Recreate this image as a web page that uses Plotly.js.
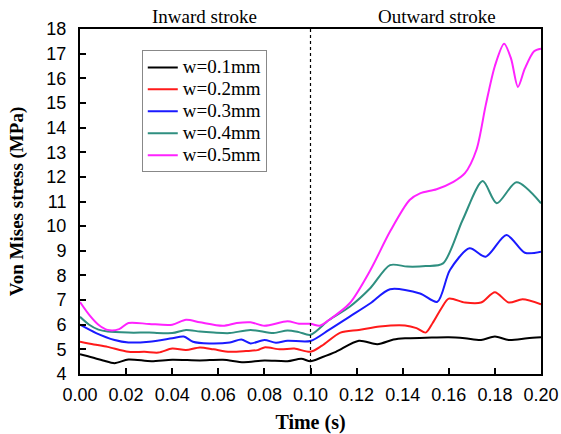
<!DOCTYPE html>
<html>
<head>
<meta charset="utf-8">
<script src="https://cdn.plot.ly/plotly-3.0.1.min.js"></script>
<style>html,body{margin:0;padding:0;background:#fff;}#chart{width:561px;height:434px;}</style>
</head>
<body>
<div id="chart"></div>
<script>
const seriesNames = ["w=0.1mm", "w=0.2mm", "w=0.3mm", "w=0.4mm", "w=0.5mm"];
const seriesColors = ["#000000", "#ff1a1a", "#1a1aff", "#2f8f80", "#ff22ff"];

const t1 = [0, 0.005, 0.010, 0.015, 0.021, 0.031, 0.040, 0.052, 0.062, 0.071, 0.080, 0.090, 0.096, 0.100, 0.105, 0.111, 0.121, 0.129, 0.136, 0.141, 0.150, 0.160, 0.167, 0.174, 0.180, 0.186, 0.194, 0.200];
const v1 = [4.80, 4.68, 4.55, 4.44, 4.59, 4.52, 4.58, 4.55, 4.58, 4.48, 4.55, 4.52, 4.62, 4.52, 4.68, 4.90, 5.35, 5.21, 5.40, 5.45, 5.47, 5.49, 5.45, 5.38, 5.52, 5.38, 5.45, 5.49];

const t2 = [0, 0.006, 0.012, 0.021, 0.028, 0.034, 0.040, 0.046, 0.052, 0.058, 0.065, 0.072, 0.077, 0.080, 0.087, 0.093, 0.100, 0.105, 0.113, 0.121, 0.130, 0.141, 0.146, 0.150, 0.153, 0.157, 0.160, 0.167, 0.174, 0.180, 0.186, 0.192, 0.200];
const v2 = [5.31, 5.20, 5.10, 4.90, 4.90, 4.87, 5.03, 4.97, 5.08, 5.00, 4.90, 4.93, 4.97, 5.08, 5.00, 5.03, 4.90, 5.15, 5.68, 5.79, 5.93, 5.97, 5.86, 5.68, 6.07, 6.70, 7.06, 6.90, 6.90, 7.32, 6.90, 7.03, 6.83];

const t3 = [0, 0.007, 0.015, 0.021, 0.030, 0.040, 0.045, 0.049, 0.056, 0.065, 0.070, 0.074, 0.080, 0.085, 0.090, 0.100, 0.108, 0.117, 0.126, 0.1345, 0.1475, 0.155, 0.1605, 0.169, 0.176, 0.185, 0.193, 0.200];
const v3 = [6.00, 5.66, 5.38, 5.28, 5.31, 5.45, 5.52, 5.31, 5.24, 5.28, 5.40, 5.24, 5.38, 5.27, 5.35, 5.34, 5.79, 6.33, 6.87, 7.44, 7.27, 6.93, 8.22, 9.10, 8.76, 9.64, 8.92, 8.96];

const t4 = [0, 0.004, 0.008, 0.012, 0.021, 0.030, 0.040, 0.046, 0.052, 0.058, 0.065, 0.074, 0.084, 0.090, 0.095, 0.100, 0.108, 0.117, 0.126, 0.1345, 0.142, 0.150, 0.1575, 0.166, 0.1747, 0.1808, 0.1894, 0.200];
const v4 = [6.32, 6.00, 5.80, 5.72, 5.68, 5.68, 5.66, 5.79, 5.72, 5.68, 5.66, 5.79, 5.66, 5.77, 5.70, 5.59, 6.19, 6.73, 7.49, 8.42, 8.36, 8.38, 8.49, 10.25, 11.83, 10.93, 11.78, 10.93];

const t5 = [0, 0.004, 0.008, 0.012, 0.017, 0.021, 0.030, 0.040, 0.046, 0.052, 0.062, 0.068, 0.074, 0.080, 0.090, 0.095, 0.100, 0.104, 0.108, 0.117, 0.126, 0.1345, 0.143, 0.1475, 0.1547, 0.162, 0.167, 0.172, 0.176, 0.180, 0.184, 0.187, 0.190, 0.193, 0.197, 0.200];
const v5 = [6.92, 6.40, 6.00, 5.79, 5.82, 6.07, 6.03, 6.00, 6.20, 6.10, 5.96, 6.07, 6.10, 5.96, 6.14, 6.04, 6.04, 5.96, 6.19, 6.87, 8.22, 9.78, 11.06, 11.33, 11.50, 11.80, 12.15, 13.10, 14.90, 16.50, 17.40, 16.80, 15.65, 16.40, 17.10, 17.20];

const xs = [t1, t2, t3, t4, t5];
const ys = [v1, v2, v3, v4, v5];

const strokeLabels = ["Inward stroke", "Outward stroke"];
const strokeLabelX = [0.054, 0.155];
const dividerX = 0.1;

const serif = "Liberation Serif, Times New Roman, serif";
const sans = "Liberation Sans, Arial, sans-serif";

const traces = seriesNames.map((n, i) => ({
  x: xs[i], y: ys[i],
  name: '<span style="font-size:19px">' + n + '</span>',
  type: "scatter", mode: "lines",
  line: {color: seriesColors[i], width: 2, shape: "spline", smoothing: 0.8}
}));

const layout = {
  width: 561, height: 434,
  margin: {l: 80, r: 20, t: 29, b: 60},
  paper_bgcolor: "#ffffff", plot_bgcolor: "#ffffff",
  showlegend: true,
  legend: {
    x: 0.134, y: 0.938, xanchor: "left", yanchor: "top",
    bgcolor: "#ffffff", bordercolor: "#888888", borderwidth: 1,
    font: {family: serif, size: 14.6, color: "#000"},
    itemwidth: 30
  },
  xaxis: {
    range: [0, 0.2], dtick: 0.02, tick0: 0, tickformat: ".2f",
    ticks: "inside", ticklen: 6, tickwidth: 2, tickcolor: "#000",
    showline: true, linewidth: 2, linecolor: "#000", mirror: true,
    showgrid: false, zeroline: false, ticklabelstandoff: 3,
    tickfont: {family: sans, size: 18, color: "#000"},
    title: {text: "<b>Time (s)</b>", font: {family: serif, size: 20, color: "#000"}, standoff: 14}
  },
  yaxis: {
    range: [4, 18], dtick: 1, tick0: 4,
    ticks: "inside", ticklen: 6, tickwidth: 2, tickcolor: "#000",
    showline: true, linewidth: 2, linecolor: "#000", mirror: true,
    showgrid: false, zeroline: false, ticklabelstandoff: 8,
    tickfont: {family: sans, size: 18, color: "#000"},
    title: {text: "<b>Von Mises stress (MPa)</b>", font: {family: serif, size: 19, color: "#000"}, standoff: 18}
  },
  shapes: [{
    type: "line", xref: "x", yref: "paper", x0: dividerX, x1: dividerX, y0: 0, y1: 1,
    line: {color: "#000", width: 1.2, dash: "dot"}
  }],
  annotations: strokeLabels.map((s, i) => ({
    text: s, xref: "x", yref: "paper", x: strokeLabelX[i], y: 1.0, yanchor: "bottom",
    yshift: 0, showarrow: false, font: {family: serif, size: 19, color: "#000"}
  }))
};

Plotly.newPlot("chart", traces, layout, {displayModeBar: false, staticPlot: true});
</script>
</body>
</html>
